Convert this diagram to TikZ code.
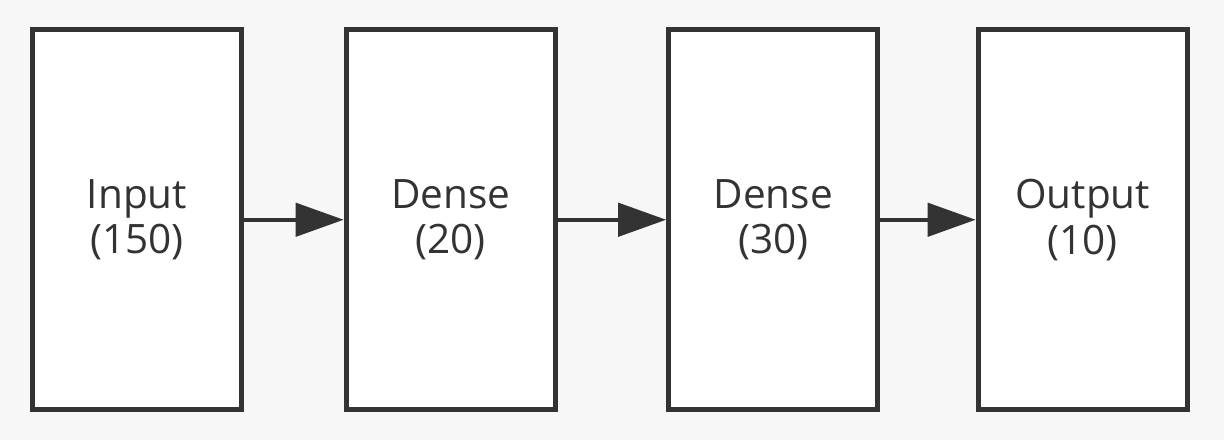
\documentclass[tikz,border=0pt]{standalone}
\usepackage{fontspec}
\setmainfont{Open Sans}
\usetikzlibrary{arrows.meta}
\definecolor{linegray}{HTML}{333333}
\begin{document}
\begin{tikzpicture}[x=0.025cm, y=-0.025cm,
		  layer/.style={draw=linegray, line width=3.5pt, fill=white, minimum width=5.23cm, minimum height=9.49cm, inner sep=0pt, align=center, text=linegray, font=\fontsize{28.8}{32.7}\selectfont},
		  flow/.style={draw=linegray, line width=2.8pt, -{Triangle[length=1.2cm, width=0.83cm]}}]
		  \fill[black!3] (0,0) rectangle (1224,440);
		  \useasboundingbox (0,0) rectangle (1224,440);
		  \node[layer] (input) at (137, 219.75) {Input\\(150)};
		  \node[layer] (dense1) at (450.75, 219.75) {Dense\\(20)};
		  \node[layer] (dense2) at (773.25, 219.75) {Dense\\(30)};
		  \node[layer] (output) at (1082.75, 219.75) {Output\\(10)};
		  \draw[flow] (input) -- (dense1);
		  \draw[flow] (dense1) -- (dense2);
		  \draw[flow] (dense2) -- (output);
	\end{tikzpicture}
\end{document}
